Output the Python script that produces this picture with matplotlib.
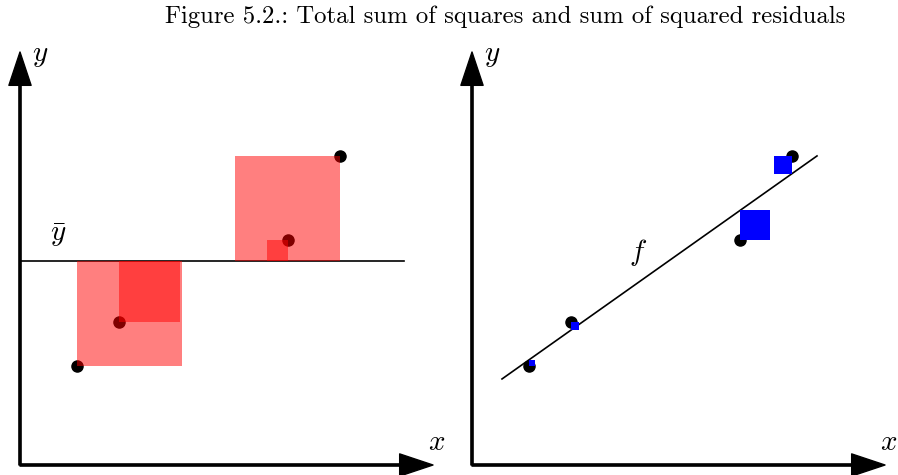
import matplotlib.pyplot as plt
from matplotlib.patches import Rectangle

plt.rcParams['mathtext.fontset'] = 'cm'

# data (arbitrary units)
x = [5.7, 9.9, 26.8, 32.0]
y = [9.9, 14.3, 22.5, 30.9]
ybar = 20.4
f_a = 6.48   # intercept of f
f_b = 0.708  # slope of f
f_x = [3.0, 34.5]
# which side of the point each square sits on (1 = right, -1 = left)
side_tss = [1, 1, -1, -1]
side_rss = [1, 1, 1, -1]

fig = plt.figure(figsize=(8.98, 4.75), dpi=100)
W, H = 898, 475
fig.text(505 / W, 1 - 17 / H, "Figure 5.2.: Total sum of squares and sum of squared residuals",
         ha='center', va='center', family='cmr10', fontsize=17.8)


def make_axes(x0):
    ax = fig.add_axes([x0 / W, 10 / H, 420 / W, 420 / H])
    ax.set_xlim(0, 42)
    ax.set_ylim(0, 42)
    ax.axis('off')
    arrow = dict(width=1.6, headwidth=16, headlength=24, color='black', shrink=0)
    ax.annotate('', xy=(41.3, 0), xytext=(0, 0), arrowprops=arrow, annotation_clip=False)
    ax.annotate('', xy=(0, 41.3), xytext=(0, 0), arrowprops=arrow, annotation_clip=False)
    ax.text(2.0, 41.0, '$y$', fontsize=21, ha='center', va='center')
    ax.text(41.7, 2.3, '$x$', fontsize=21, ha='center', va='center')
    return ax


def square(ax, xi, yi, ref, side, **kw):
    d = abs(yi - ref)
    x0 = xi if side > 0 else xi - d
    ax.add_patch(Rectangle((x0, min(yi, ref)), d, d, linewidth=0, **kw))


# left: total sum of squares
ax1 = make_axes(20)
ax1.plot([0, 38.4], [ybar, ybar], color='black', lw=1.2)
ax1.text(3.8, 23.0, r'$\bar{y}$', fontsize=21, ha='center', va='center')
ax1.plot(x, y, 'o', color='black', ms=8, clip_on=False, zorder=2)
for xi, yi, s in zip(x, y, side_tss):
    square(ax1, xi, yi, ybar, s, facecolor='red', alpha=0.5, zorder=3)

# right: sum of squared residuals
ax2 = make_axes(472)
ax2.plot(f_x, [f_a + f_b * v for v in f_x], color='black', lw=1.2)
ax2.text(16.6, 21.3, '$f$', fontsize=21, ha='center', va='center')
ax2.plot(x, y, 'o', color='black', ms=8, clip_on=False, zorder=2)
for xi, yi, s in zip(x, y, side_rss):
    square(ax2, xi, yi, f_a + f_b * xi, s, facecolor='blue', zorder=3)

fig.savefig('out.png', dpi=100)
